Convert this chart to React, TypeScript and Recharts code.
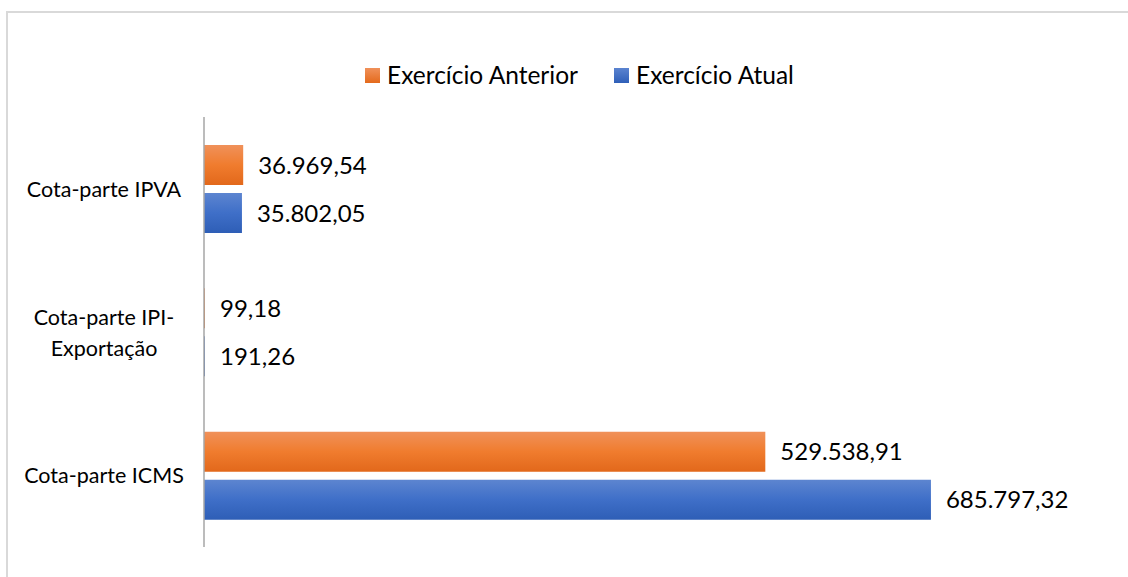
import React from "react";
import { BarChart, Bar, XAxis, YAxis, LabelList, Legend } from "recharts";

const categories = ["Cota-parte IPVA", "Cota-parte IPI-\nExportação", "Cota-parte ICMS"];
const anterior = [36969.54, 99.18, 529538.91];
const atual = [35802.05, 191.26, 685797.32];
const seriesNames = ["Exercício Anterior", "Exercício Atual"];

const data = categories.map((c, i) => ({ name: c, anterior: anterior[i], atual: atual[i] }));

const FONT = "Lato, 'Noto Sans', sans-serif";

function fmt(v: number): string {
  const fixed = v.toFixed(2);
  const [intPart, dec] = fixed.split(".");
  const withDots = intPart.replace(/\B(?=(\d{3})+(?!\d))/g, ".");
  return `${withDots},${dec}`;
}

const CategoryTick = (props: any) => {
  const { x, y, payload } = props;
  const lines = String(payload.value).split("\n");
  const lh = 31;
  const start = y - ((lines.length - 1) * lh) / 2;
  return (
    <g>
      {lines.map((l: string, i: number) => (
        <text
          key={i}
          x={x - 92}
          y={start + i * lh}
          textAnchor="middle"
          dominantBaseline="central"
          fontFamily={FONT}
          fontSize={21.5}
          fill="#000"
        >
          {l}
        </text>
      ))}
    </g>
  );
};

const LegendContent = () => (
  <div style={{ position: "relative", height: 30, fontFamily: FONT, fontSize: 24.5, color: "#000", lineHeight: "30px" }}>
    <div style={{ position: "absolute", left: 365, top: 0, display: "flex", alignItems: "center" }}>
      <span style={{ width: 15, height: 15, background: "linear-gradient(#f0915a, #e46a1c)", display: "inline-block", marginRight: 7 }} />
      <span>{seriesNames[0]}</span>
    </div>
    <div style={{ position: "absolute", left: 614, top: 0, display: "flex", alignItems: "center" }}>
      <span style={{ width: 15, height: 15, background: "linear-gradient(#5b84d0, #2f5fb8)", display: "inline-block", marginRight: 7 }} />
      <span>{seriesNames[1]}</span>
    </div>
  </div>
);

export default function App() {
  return (
    <div style={{ position: "absolute", left: 0, top: 0, width: 1128, height: 577, background: "#fff", overflow: "hidden" }}>
      <div
        style={{
          position: "absolute",
          left: 6,
          top: 11,
          width: 1140,
          height: 600,
          border: "2px solid #d9d9d9",
          boxSizing: "border-box",
        }}
      />
      <div style={{ position: "absolute", left: 0, top: 0 }}>
        <BarChart
          width={1128}
          height={577}
          data={data}
          layout="vertical"
          margin={{ top: 87, right: 76, bottom: 30, left: 8 }}
          barSize={40}
          barGap={8}
        >
          <defs>
            <linearGradient id="gOrange" x1="0" y1="0" x2="0" y2="1">
              <stop offset="0%" stopColor="#f0915a" />
              <stop offset="50%" stopColor="#f07c2e" />
              <stop offset="100%" stopColor="#e2681b" />
            </linearGradient>
            <linearGradient id="gBlue" x1="0" y1="0" x2="0" y2="1">
              <stop offset="0%" stopColor="#5d85d0" />
              <stop offset="50%" stopColor="#3f6fc8" />
              <stop offset="100%" stopColor="#2e5eb6" />
            </linearGradient>
          </defs>
          <XAxis type="number" domain={[0, 800000]} hide />
          <YAxis
            type="category"
            dataKey="name"
            width={196}
            tickLine={false}
            axisLine={{ stroke: "#a6a6a6", strokeWidth: 1.5 }}
            tick={<CategoryTick />}
            interval={0}
          />
          <Legend verticalAlign="top" height={30} content={<LegendContent />} wrapperStyle={{ top: 60, left: 0, width: 1128 }} />
          <Bar dataKey="anterior" name={seriesNames[0]} fill="url(#gOrange)" minPointSize={1} isAnimationActive={false}>
            <LabelList
              dataKey="anterior"
              position="right"
              offset={15}
              formatter={(v: any) => fmt(Number(v))}
              style={{ fontFamily: FONT, fontSize: 24, fill: "#000" }}
            />
          </Bar>
          <Bar dataKey="atual" name={seriesNames[1]} fill="url(#gBlue)" minPointSize={1} isAnimationActive={false}>
            <LabelList
              dataKey="atual"
              position="right"
              offset={15}
              formatter={(v: any) => fmt(Number(v))}
              style={{ fontFamily: FONT, fontSize: 24, fill: "#000" }}
            />
          </Bar>
        </BarChart>
      </div>
    </div>
  );
}
